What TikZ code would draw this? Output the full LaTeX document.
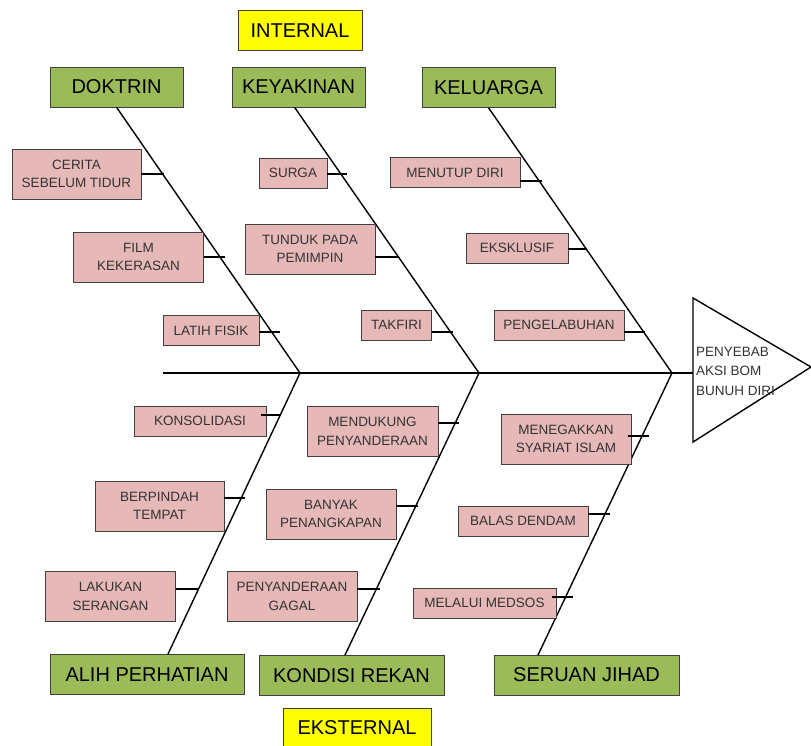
\documentclass[tikz,border=0pt]{standalone}
\usepackage{fontspec}
\setmainfont{Liberation Sans}
\usetikzlibrary{positioning,calc}

\definecolor{headgreen}{HTML}{9BBB59}
\definecolor{causepink}{HTML}{E6B9B8}
\definecolor{grpyellow}{HTML}{FFFF00}

\begin{document}
\begin{tikzpicture}[
  x=1pt, y=-1pt,
  bonebox/.style={draw=black!75, fill=headgreen, minimum width=133pt, minimum height=40pt, inner sep=2pt, font=\fontsize{20}{24}\selectfont},
  grpbox/.style={bonebox, fill=grpyellow},
  cause/.style={draw=black!75, fill=causepink, minimum width=130pt, minimum height=30pt, inner sep=2pt, align=center, text=black!80, font=\fontsize{13.5}{18.5}\selectfont},
  cause2/.style={cause, minimum height=50pt},
  bone/.style={line width=1.4pt},
  spine/.style={line width=2.6pt},
  twig/.style={line width=1.4pt}
]
\useasboundingbox (0,0) rectangle (811,745);

% group labels
\node[grpbox, minimum width=124pt] (internal) at (300,30.5) {INTERNAL};
\node[grpbox, minimum width=148pt] (eksternal) at (357,728) {EKSTERNAL};

% main bones
\node[bonebox] (doktrin) at (116.5,87) {DOKTRIN};
\node[bonebox] (keyakinan) at (298.5,87) {KEYAKINAN};
\node[bonebox] (keluarga) at (488.5,87.5) {KELUARGA};
\node[bonebox, minimum width=194pt] (alih) at (147,674.5) {ALIH PERHATIAN};
\node[bonebox, minimum width=185pt] (kondisi) at (351.5,675.5) {KONDISI REKAN};
\node[bonebox, minimum width=185pt] (seruan) at (586.5,675) {SERUAN JIHAD};

% head
\coordinate (tail) at (163,373);
\coordinate (head) at (693,373);
\draw[bone] (693,298) -- (811,367) -- (693,442) -- cycle;
\node[anchor=west, align=left, inner sep=0pt, text=black!80, font=\fontsize{13.5}{19.5}\selectfont] (effect) at (696,371) {PENYEBAB\\AKSI BOM\\BUNUH DIRI};
\draw[spine] (tail) -- (head);

\coordinate (j1) at (300,373);
\coordinate (j2) at (479,373);
\coordinate (j3) at (672,373);
\coordinate (e1) at (168,654);
\coordinate (e2) at (345,655);
\coordinate (e3) at (538,655);
\draw[bone] (doktrin.south) -- (j1);
\draw[bone] ([xshift=-4pt]keyakinan.south) -- (j2);
\draw[bone] (keluarga.south) -- (j3);
\draw[bone] (j1) -- (e1);
\draw[bone] (j2) -- (e2);
\draw[bone] (j3) -- (e3);

% causes, upper side
\node[cause2, minimum width=129pt] (cerita) at (76.5,174) {CERITA\\SEBELUM TIDUR};
\node[cause2] (film) at (138.5,257) {FILM\\KEKERASAN};
\node[cause, minimum width=96pt] (latih) at (211,330.5) {LATIH FISIK};
\node[cause, minimum width=68pt] (surga) at (293,173) {SURGA};
\node[cause2] (tunduk) at (310,249) {TUNDUK PADA\\PEMIMPIN};
\node[cause, minimum width=70pt] (takfiri) at (396.5,325) {TAKFIRI};
\node[cause] (menutup) at (455,172.5) {MENUTUP DIRI};
\node[cause, minimum width=102pt] (eksklusif) at (517,248) {EKSKLUSIF};
\node[cause] (pengelabuhan) at (559,325) {PENGELABUHAN};

% causes, lower side
\node[cause, minimum width=132pt] (konsolidasi) at (200,421) {KONSOLIDASI};
\node[cause2, minimum width=129pt] (berpindah) at (159.5,506) {BERPINDAH\\TEMPAT};
\node[cause2] (lakukan) at (110.5,596.5) {LAKUKAN\\SERANGAN};
\node[cause2, minimum width=131pt] (mendukung) at (372.5,431.5) {MENDUKUNG\\PENYANDERAAN};
\node[cause2] (banyak) at (331,514) {BANYAK\\PENANGKAPAN};
\node[cause2] (penyanderaan) at (292,596.5) {PENYANDERAAN\\GAGAL};
\node[cause2] (menegakkan) at (566,439) {MENEGAKKAN\\SYARIAT ISLAM};
\node[cause] (balas) at (523,521) {BALAS DENDAM};
\node[cause, minimum width=143pt] (melalui) at (484.5,603) {MELALUI MEDSOS};

% twigs
\coordinate (t1) at (164,174);
\coordinate (t2) at (225,257);
\coordinate (t3) at (280,332);
\coordinate (t4) at (347,174);
\coordinate (t5) at (399,257);
\coordinate (t6) at (453,332);
\coordinate (t7) at (542,181);
\coordinate (t8) at (587,249);
\coordinate (t9) at (645,332);
\coordinate (t10) at (281,415);
\coordinate (t11) at (245,498);
\coordinate (t12) at (199,589);
\coordinate (t13) at (459,423);
\coordinate (t14) at (418,506);
\coordinate (t15) at (380,589);
\coordinate (t16) at (649,436);
\coordinate (t17) at (610,514);
\coordinate (t18) at (573,597);
\draw[twig] (cerita.east |- t1) -- (t1);
\draw[twig] (film.east |- t2) -- (t2);
\draw[twig] (latih.east |- t3) -- (t3);
\draw[twig] (surga.east |- t4) -- (t4);
\draw[twig] (tunduk.east |- t5) -- (t5);
\draw[twig] (takfiri.east |- t6) -- (t6);
\draw[twig] (menutup.east |- t7) -- (t7);
\draw[twig] (eksklusif.east |- t8) -- (t8);
\draw[twig] (pengelabuhan.east |- t9) -- (t9);
\draw[twig] ([xshift=-5pt]konsolidasi.east |- t10) -- (t10);
\draw[twig] (berpindah.east |- t11) -- (t11);
\draw[twig] (lakukan.east |- t12) -- (t12);
\draw[twig] (mendukung.east |- t13) -- (t13);
\draw[twig] (banyak.east |- t14) -- (t14);
\draw[twig] (penyanderaan.east |- t15) -- (t15);
\draw[twig] ([xshift=-3pt]menegakkan.east |- t16) -- (t16);
\draw[twig] (balas.east |- t17) -- (t17);
\draw[twig] ([xshift=-4pt]melalui.east |- t18) -- (t18);
\end{tikzpicture}
\end{document}
